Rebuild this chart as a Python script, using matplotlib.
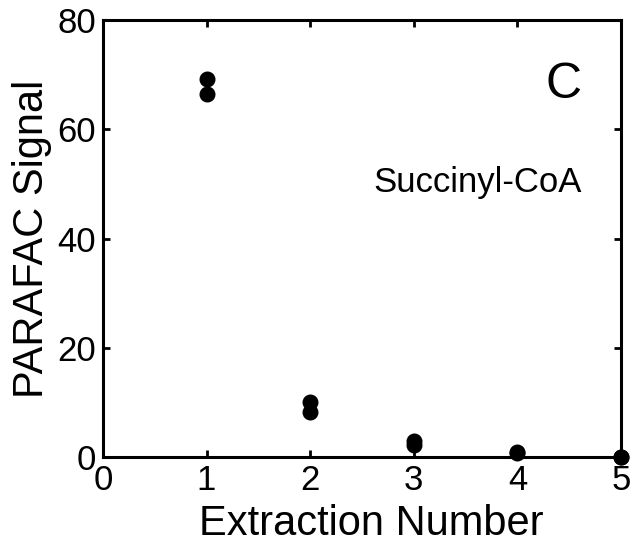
import matplotlib.pyplot as plt

plt.rcParams['font.family'] = ['Liberation Sans', 'DejaVu Sans']

extraction = [1, 1, 2, 2, 3, 3, 4, 4, 5, 5]
signal = [69.2, 66.5, 10.1, 8.2, 2.9, 2.1, 0.9, 0.7, 0.0, 0.0]

fig = plt.figure(figsize=(6.35, 5.44), dpi=100)
ax = fig.add_axes([0.162, 0.16, 0.816, 0.803])

ax.plot(extraction, signal, 'o', color='black', markersize=10.5, clip_on=False, zorder=5)

ax.set_xlim(0, 5)
ax.set_ylim(0, 80)
ax.set_xticks(range(0, 6))
ax.set_yticks(range(0, 81, 20))
ax.tick_params(direction='in', length=5, width=2, labelsize=25, top=True, right=True, pad=5)
for s in ax.spines.values():
    s.set_linewidth(2.2)

ax.set_xlabel('Extraction Number', fontsize=30)
ax.xaxis.set_label_coords(0.519, -0.108)
ax.set_ylabel('PARAFAC Signal', fontsize=30, labelpad=4)

ax.text(4.45, 65.7, 'C', fontsize=36, ha='center', va='baseline')
ax.text(3.615, 48.5, 'Succinyl-CoA', fontsize=25, ha='center', va='baseline')

fig.savefig('out.png', dpi=100)
